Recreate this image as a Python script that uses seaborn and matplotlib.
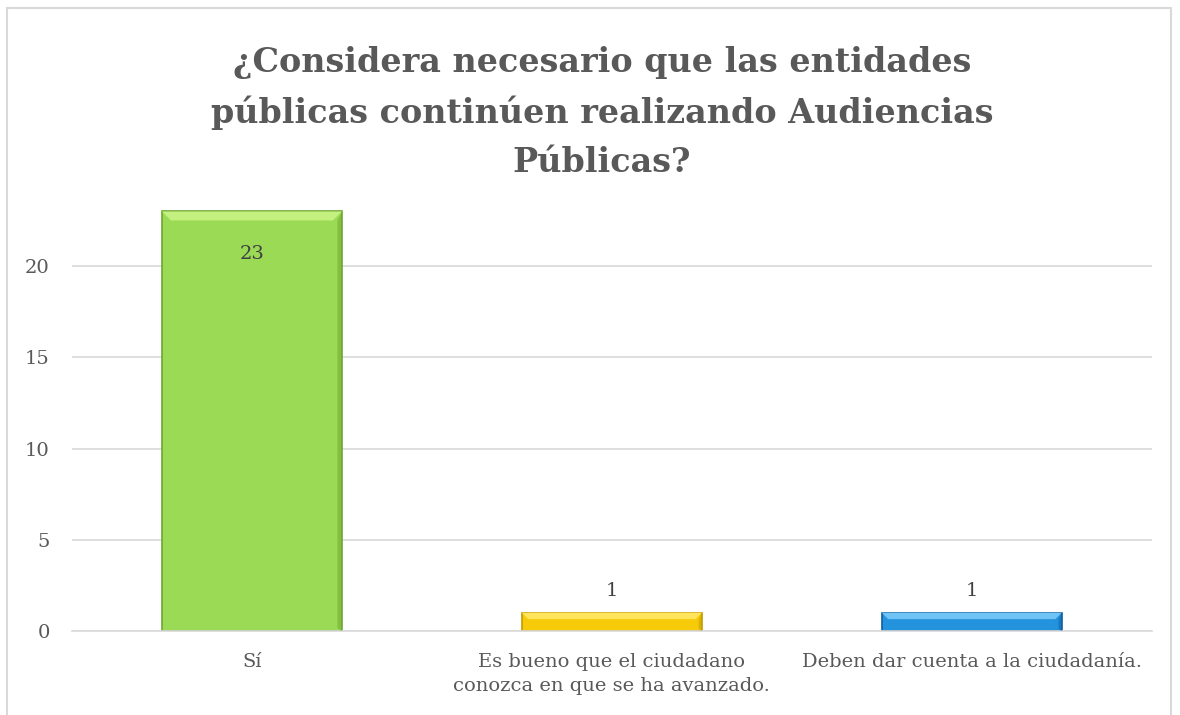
import pandas as pd
import seaborn as sns
import matplotlib.pyplot as plt
from matplotlib.patches import Rectangle, Polygon

# === Data ===
categories = ['Sí', 'Es bueno que el ciudadano\nconozca en que se ha avanzado.', 'Deben dar cuenta a la ciudadanía.']
values = [23, 1, 1]
bar_colors = ['#9ADA55', '#F7CB0A', '#2393DE']
edge_colors = ['#6FA532', '#C39A00', '#0E5F9C']
light_colors = ['#C4F07F', '#FFE45C', '#6FC3F5']
title = '¿Considera necesario que las entidades\npúblicas continúen realizando Audiencias\nPúblicas?'

df = pd.DataFrame({'cat': categories, 'val': values})

sns.set_style('white')
plt.rcParams['font.family'] = ['DejaVu Serif']
text_color = '#595959'

fig = plt.figure(figsize=(11.8, 7.15), dpi=100)
ax = fig.add_axes([0.061, 0.1175, 0.915, 0.625])

sns.barplot(data=df, x='cat', y='val', hue='cat', palette=bar_colors, width=0.5,
            legend=False, ax=ax, saturation=1)

ax.set_ylim(0, 24.5)
ax.set_xlim(-0.5, 2.5)
ax.set_yticks([0, 5, 10, 15, 20])
ax.yaxis.grid(True, color='#D9D9D9', linewidth=1.2)
ax.set_axisbelow(True)
for s in ['top', 'right', 'left']:
    ax.spines[s].set_visible(False)
ax.spines['bottom'].set_color('#D9D9D9')
ax.spines['bottom'].set_linewidth(1.2)
ax.tick_params(axis='both', length=0, labelsize=14, colors=text_color)
ax.tick_params(axis='y', pad=16)
ax.tick_params(axis='x', pad=16)
for lbl in ax.get_xticklabels():
    lbl.set_linespacing(1.4)
ax.set_xlabel('')
ax.set_ylabel('')

# bevel look on each bar
fig.canvas.draw()
inv = ax.transData.inverted()
for i, p in enumerate(ax.patches):
    p.set_edgecolor(edge_colors[i])
    p.set_linewidth(1.2)
    x0, y0 = p.get_x(), p.get_y()
    w, h = p.get_width(), p.get_height()
    (px0, py0) = ax.transData.transform((x0, y0))
    (px1, py1) = ax.transData.transform((x0 + w, y0 + h))
    b = min(9, (py1 - py0) * 0.35)
    pts = [(px0, py1), (px1, py1), (px1 - b, py1 - b), (px0 + b, py1 - b)]
    ax.add_patch(Polygon(inv.transform(pts), closed=True, facecolor=light_colors[i],
                         edgecolor='none', zorder=3))
    side = [(px1, py1), (px1, py0), (px1 - b * 0.5, py0 + b * 0.3), (px1 - b * 0.5, py1 - b)]
    ax.add_patch(Polygon(inv.transform(side), closed=True, facecolor=edge_colors[i],
                         edgecolor='none', alpha=0.5, zorder=3))

# data labels
for i, v in enumerate(values):
    if v > 5:
        ax.annotate(str(v), (i, v), xytext=(0, -37), textcoords='offset points',
                    ha='center', va='bottom', fontsize=14, color='#404040', zorder=5)
    else:
        ax.annotate(str(v), (i, v), xytext=(0, 9), textcoords='offset points',
                    ha='center', va='bottom', fontsize=14, color='#404040', zorder=5)

fig.text(0.51, 0.843, title, ha='center', va='center', fontsize=24, fontweight='bold',
         color=text_color, linespacing=1.6)

# chart border
fig.patches.append(Rectangle((7 / 1180, -0.01), 1164 / 1180, 1 - 8 / 715 + 0.01,
                             transform=fig.transFigure, fill=False,
                             edgecolor='#D9D9D9', linewidth=1.5))

fig.savefig('out.png', dpi=100)
